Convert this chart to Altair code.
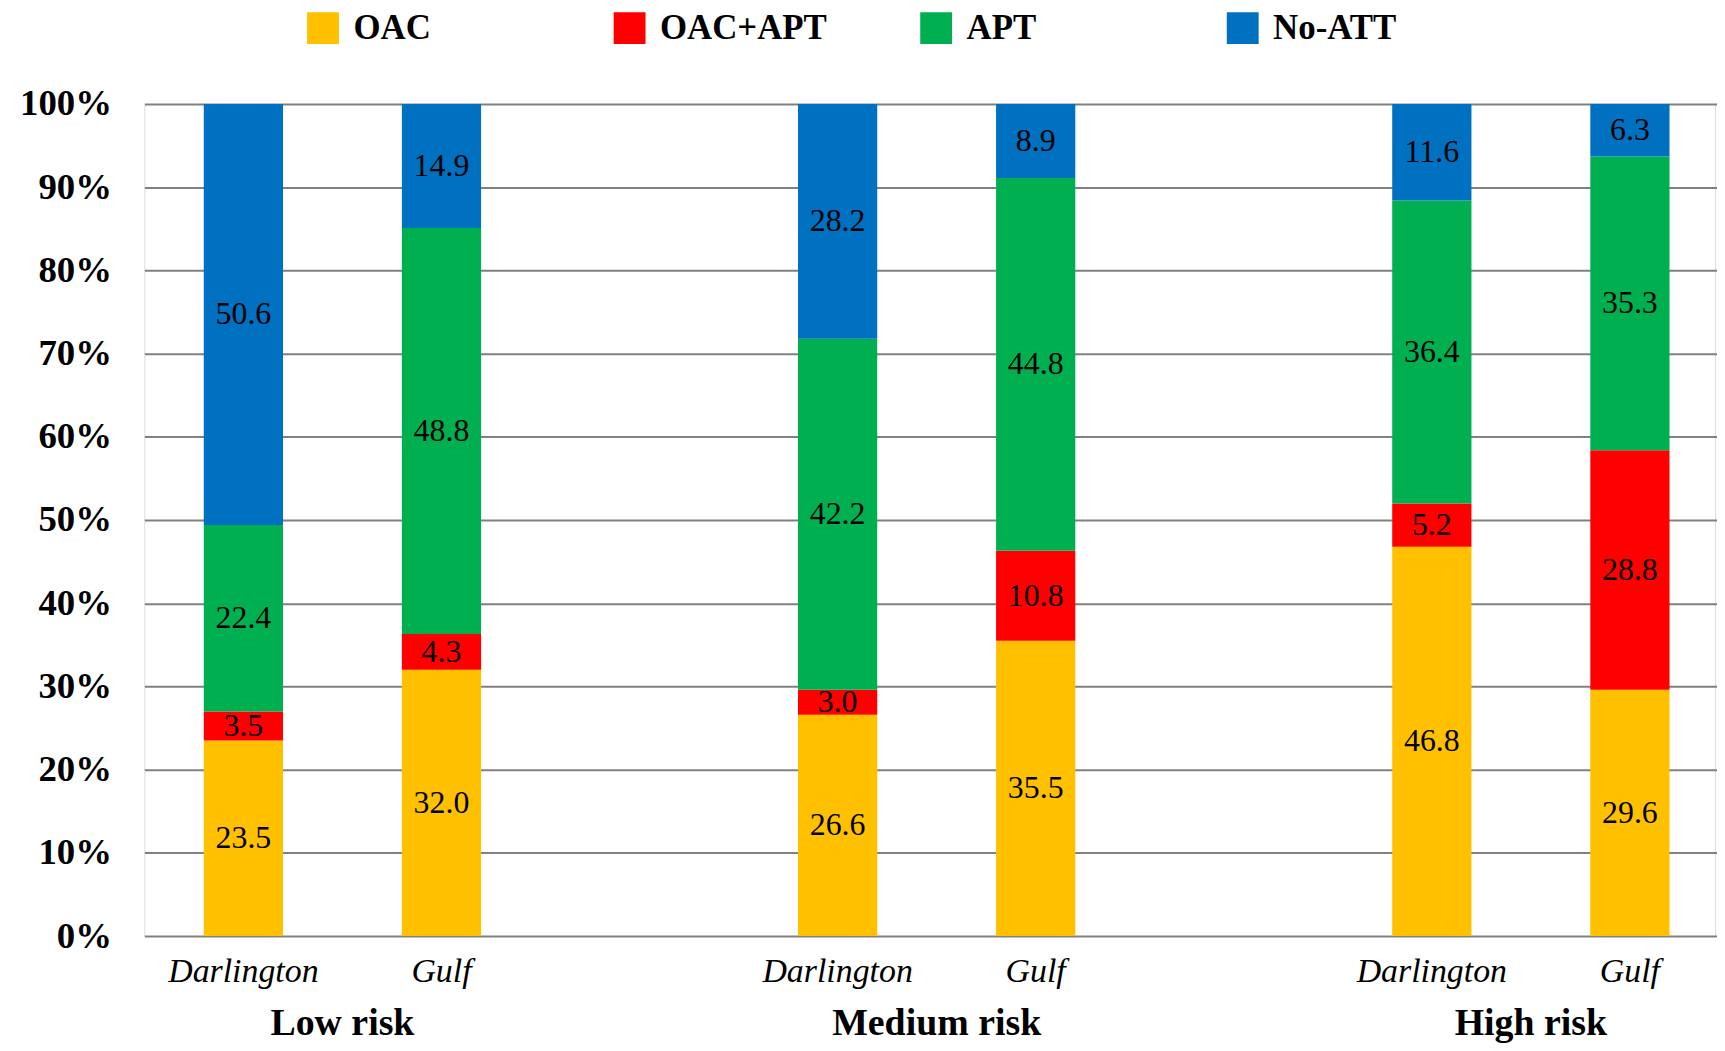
import altair as alt
import pandas as pd

groups = ["Low risk", "Medium risk", "High risk"]
sites = ["Darlington", "Gulf"]
categories = ["OAC", "OAC+APT", "APT", "No-ATT"]
colors = ["#FFC000", "#FF0000", "#00B050", "#0070C0"]

# values per (group, site) in category order
oac = [23.5, 32.0, 26.6, 35.5, 46.8, 29.6]
oac_apt = [3.5, 4.3, 3.0, 10.8, 5.2, 28.8]
apt = [22.4, 48.8, 42.2, 44.8, 36.4, 35.3]
no_att = [50.6, 14.9, 28.2, 8.9, 11.6, 6.3]

series = [oac, oac_apt, apt, no_att]
rows = []
i = 0
for g in groups:
    for s in sites:
        for ci, c in enumerate(categories):
            rows.append({"key": f"{g}|{s}", "group": g, "site": s,
                         "cat": c, "ord": ci, "value": series[ci][i]})
        i += 1
df = pd.DataFrame(rows)

x_domain = ["Low risk|Darlington", "Low risk|Gulf", "gap1",
            "Medium risk|Darlington", "Medium risk|Gulf", "gap2",
            "High risk|Darlington", "High risk|Gulf"]

W = 1578
H = 836
STEP = 199
RANGE = STEP * len(x_domain)

x_scale = alt.Scale(domain=x_domain, range=[0, RANGE], paddingInner=0.6, paddingOuter=0.3)
x_enc = alt.X("key:N", scale=x_scale, sort=x_domain, title=None,
              axis=alt.Axis(labelExpr="indexof(datum.value,'|')>=0 ? split(datum.value,'|')[1] : ''",
                            labelAngle=0, domain=False, ticks=False, grid=False,
                            labelFont="Liberation Serif", labelFontStyle="italic",
                            labelFontSize=34, labelColor="#000000", labelPadding=19))

base = alt.Chart(df).transform_stack(
    stack="value", as_=["v0", "v1"], groupby=["key"], sort=[alt.SortField("ord")]
).transform_calculate(mid="(datum.v0 + datum.v1) / 2")

y_scale = alt.Scale(domain=[0, 100], nice=False)

bars = base.mark_bar(strokeWidth=0).encode(
    x=x_enc,
    y=alt.Y("v0:Q", scale=y_scale, title=None,
            axis=alt.Axis(values=list(range(0, 101, 10)), labelExpr="datum.value + '%'",
                          domain=False, ticks=False, grid=True, gridColor="#808080",
                          gridWidth=2, labelFont="Liberation Serif", labelFontWeight="bold",
                          labelFontSize=37, labelColor="#000000", labelPadding=33)),
    y2="v1:Q",
    color=alt.Color("cat:N", scale=alt.Scale(domain=categories, range=colors),
                    legend=alt.Legend(title=None, orient="none", legendX=162, legendY=-94,
                                      direction="horizontal", columns=4, gridAlign="all",
                                      symbolType="square", symbolSize=1024, symbolStrokeWidth=0,
                                      symbolOpacity=1, labelFont="Liberation Serif",
                                      labelFontWeight="bold", labelFontSize=35,
                                      labelColor="#000000", labelOffset=13,
                                      columnPadding=92, padding=0, labelLimit=400)),
    order=alt.Order("ord:Q"),
)

labels = base.mark_text(font="Liberation Serif", fontSize=32, color="#000000",
                        baseline="middle", align="center").encode(
    x=alt.X("key:N", scale=x_scale, sort=x_domain),
    y=alt.Y("mid:Q", scale=y_scale),
    text=alt.Text("value:Q", format=".1f"),
)

gdf = pd.DataFrame({"group": groups, "key": [f"{g}|Darlington" for g in groups]})
glabels = alt.Chart(gdf).mark_text(font="Liberation Serif", fontWeight="bold", fontSize=38,
                                   color="#000000", baseline="alphabetic", align="center",
                                   dx=STEP / 2).encode(
    x=alt.X("key:N", scale=x_scale, sort=x_domain),
    y=alt.value(H + 99),
    text="group:N",
)

chart = alt.layer(bars, labels, glabels).properties(
    width=W, height=H,
    autosize=alt.AutoSizeParams(type="none"),
    padding={"left": 137, "top": 94, "right": 2, "bottom": 107},
).configure_view(stroke=None).configure(background="#ffffff")

chart.save("out.html", embed_options={"renderer": "svg", "actions": False})
